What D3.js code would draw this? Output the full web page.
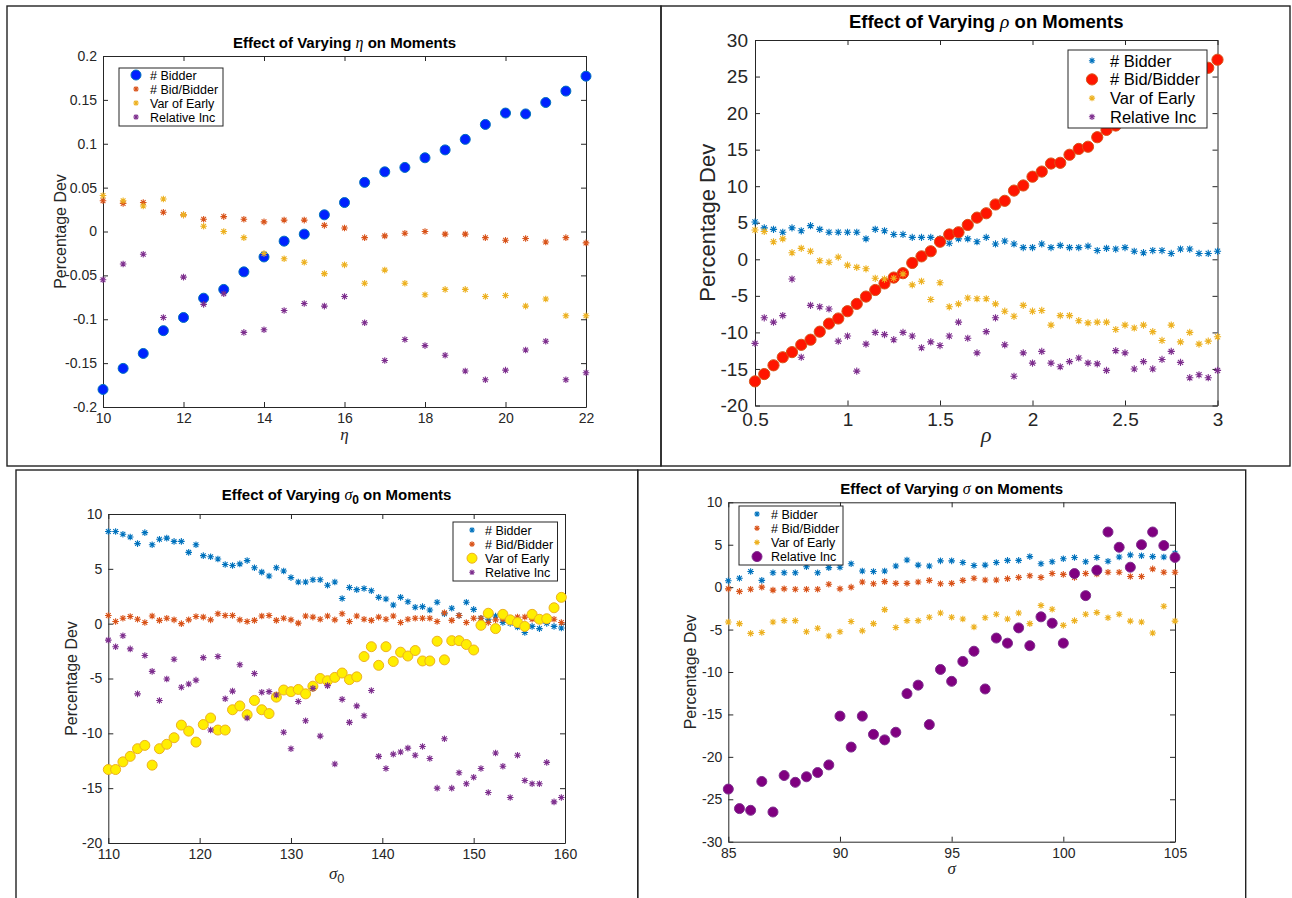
<!DOCTYPE html>
<html>
<head>
<meta charset="utf-8">
<script src="https://cdnjs.cloudflare.com/ajax/libs/d3/7.8.5/d3.min.js"></script>
<style>
body { margin: 0; background: #fff; }
svg { display: block; font-family: "Liberation Sans", Arial, sans-serif; }
</style>
</head>
<body>
<svg id="chart" width="1292" height="898"></svg>
<script>
// ---- data ----
const seriesNames = ["# Bidder", "# Bid/Bidder", "Var of Early", "Relative Inc"];
const seriesColors = ["#0072BD", "#D95319", "#EDB120", "#7E2F8E"];

// panel 1: varying eta
const etaX = [10,10.5,11,11.5,12,12.5,13,13.5,14,14.5,15,15.5,16,16.5,17,17.5,18,18.5,19,19.5,20,20.5,21,21.5,22];
const etaBidder = [-0.180,-0.156,-0.139,-0.113,-0.098,-0.076,-0.066,-0.046,-0.029,-0.011,-0.003,0.019,0.033,0.056,0.068,0.073,0.084,0.093,0.105,0.122,0.135,0.134,0.147,0.160,0.177];
const etaBidPer = [0.035,0.032,0.033,0.022,0.019,0.014,0.017,0.014,0.011,0.013,0.013,0.007,0.004,-0.007,-0.005,-0.002,0,-0.003,-0.003,-0.007,-0.010,-0.008,-0.012,-0.007,-0.013];
const etaVarEarly = [0.041,0.035,0.029,0.037,0.019,0.006,0,-0.007,-0.025,-0.031,-0.035,-0.048,-0.038,-0.059,-0.044,-0.059,-0.072,-0.066,-0.066,-0.074,-0.073,-0.085,-0.077,-0.096,-0.096];
const etaRelInc = [-0.055,-0.037,-0.026,-0.098,-0.052,-0.083,-0.071,-0.115,-0.112,-0.090,-0.082,-0.085,-0.074,-0.104,-0.147,-0.123,-0.130,-0.141,-0.159,-0.169,-0.158,-0.135,-0.125,-0.169,-0.161];
const etaXTicks = [10,12,14,16,18,20,22];
const etaYTicks = [-0.2,-0.15,-0.1,-0.05,0,0.05,0.1,0.15,0.2];

// panel 2: varying rho
const rhoX = [0.5,0.55,0.6,0.65,0.7,0.75,0.8,0.85,0.9,0.95,1,1.05,1.1,1.15,1.2,1.25,1.3,1.35,1.4,1.45,1.5,1.55,1.6,1.65,1.7,1.75,1.8,1.85,1.9,1.95,2,2.05,2.1,2.15,2.2,2.25,2.3,2.35,2.4,2.45,2.5,2.55,2.6,2.65,2.7,2.75,2.8,2.85,2.9,2.95,3];
const rhoBidder = [5.1,4.3,4.1,3.7,4.3,3.9,4.6,4.1,3.7,3.7,3.7,3.7,2.8,4.1,3.9,3.4,3.4,3.0,3.0,3.0,2.8,2.2,2.8,2.8,2.4,3.0,2.1,2.5,2.1,1.6,1.6,2.1,1.6,1.9,1.6,1.6,1.8,1.2,1.5,1.4,1.6,1.1,0.9,1.2,1.2,0.8,1.4,1.4,0.8,0.8,1.1];
const rhoBidPer = [-16.7,-15.7,-14.5,-13.4,-12.7,-11.7,-11.0,-9.9,-8.8,-8.1,-7.1,-6.1,-5.1,-4.2,-3.3,-2.5,-1.9,-0.5,0.4,1.1,2.4,3.4,3.7,4.7,5.7,6.3,7.5,8.0,9.4,10.1,11.3,12.0,13.1,13.2,14.3,15.1,15.4,16.7,17.7,18.3,19.2,19.9,20.8,21.5,22.5,23.1,24.0,24.8,25.5,26.2,27.3];
const rhoVarEarly = [4.0,3.8,2.4,2.8,0.9,1.5,1.1,-0.2,-0.4,0.3,-0.8,-1.1,-1.3,-2.6,-2.7,-2.6,-2.0,-3.5,-3.0,-5.5,-3.2,-6.5,-6.1,-5.3,-5.4,-5.4,-6.1,-7.1,-7.8,-6.3,-7.1,-7.0,-9.0,-7.7,-7.7,-8.4,-8.7,-8.6,-8.6,-9.6,-9.0,-9.4,-9.0,-9.9,-11.1,-9.0,-11.3,-10.0,-11.6,-11.2,-10.6];
const rhoRelInc = [-11.5,-8.0,-8.6,-7.7,-2.7,-13.4,-6.3,-6.5,-6.8,-11.2,-10.5,-15.3,-11.6,-10.0,-10.3,-11.0,-10.0,-10.5,-12.1,-11.3,-11.8,-10.5,-8.6,-10.8,-12.8,-9.9,-8.0,-11.7,-16.0,-12.8,-14.2,-12.6,-14.2,-14.7,-14.0,-13.5,-14.2,-14.3,-15.2,-12.5,-12.8,-15.0,-14.0,-15.0,-13.7,-12.6,-14.1,-16.2,-15.8,-16.2,-15.2];
const rhoXTicks = [0.5,1,1.5,2,2.5,3];
const rhoYTicks = [-20,-15,-10,-5,0,5,10,15,20,25,30];

// panel 3: varying sigma_0
const sig0X = [110,110.8,111.6,112.4,113.2,114,114.8,115.6,116.4,117.2,118,118.8,119.6,120.4,121.2,122,122.8,123.6,124.4,125.2,126,126.8,127.6,128.4,129.2,130,130.8,131.6,132.4,133.2,134,134.8,135.6,136.4,137.2,138,138.8,139.6,140.4,141.2,142,142.8,143.6,144.4,145.2,146,146.8,147.6,148.4,149.2,150,150.8,151.6,152.4,153.2,154,154.8,155.6,156.4,157.2,158,158.8,159.6];
const sig0Bidder = [8.4,8.4,8.15,7.9,7.3,8.3,7.2,7.7,7.8,7.5,7.5,6.5,7.2,6.2,6.1,5.9,5.4,5.3,5.45,5.75,5.1,4.7,4.35,5.1,4.8,4.2,3.8,3.8,4.0,4.0,3.5,3.8,2.3,3.3,3.1,3.2,3.0,2.4,2.25,1.7,2.4,2.0,1.5,1.55,1.25,1.95,0.9,1.4,0.75,1.95,1.3,0.5,0.4,0.7,0.1,0.03,-0.3,-0.8,-0.25,-0.45,0.03,-0.25,-0.4];
const sig0BidPer = [0.75,0.2,0.5,0.65,0.4,0.1,0.7,0.3,0.5,0.35,0,0.35,0.65,0.6,0.35,0.9,0.75,0.75,0.35,0.2,0.3,0.7,0.75,0.3,0.5,0.35,0.05,0.7,0.6,0.4,0.7,0.35,0.9,0.2,0.7,0.4,0.3,0.6,0.4,0.7,0.1,0.4,0.5,0.5,0.5,0.2,1.0,0.3,0.75,0.1,0.5,0.5,0.1,0.35,0.4,0.4,0.6,0.6,0.4,0.5,0.35,0.4,0.1];
const sig0VarEarly = [-13.3,-13.3,-12.6,-12.1,-11.4,-11.1,-12.9,-11.4,-11.0,-10.4,-9.25,-9.8,-10.8,-9.2,-8.6,-9.7,-9.7,-7.85,-7.5,-8.3,-7.0,-7.85,-8.2,-6.7,-6.05,-6.2,-6.0,-6.4,-5.7,-5.0,-5.2,-4.9,-4.5,-5.1,-4.85,-3.0,-2.1,-3.8,-2.1,-3.45,-2.6,-2.95,-2.45,-3.4,-3.4,-1.6,-3.3,-1.55,-1.55,-1.9,-2.4,-0.15,0.95,-0.45,0.85,0.35,0.1,-0.25,0.85,0.4,0.45,1.45,2.4];
const sig0RelInc = [-1.5,-2.1,-1.1,-2.3,-6.4,-2.9,-4.35,-7.0,-5.05,-3.25,-5.8,-5.5,-5.15,-3.1,-9.7,-3.0,-6.85,-6.15,-3.75,-8.6,-4.55,-6.25,-6.2,-6.5,-9.9,-11.4,-7.1,-8.85,-5.9,-10.25,-5.65,-12.8,-6.9,-9.0,-7.5,-8.4,-6.1,-12.1,-13.2,-11.9,-11.7,-11.35,-12.0,-11.2,-12.3,-15.0,-10.5,-15.0,-13.6,-14.6,-14.0,-13.2,-15.4,-11.8,-13.0,-15.85,-12.0,-14.3,-14.6,-14.6,-12.65,-16.25,-15.85];
const sig0XTicks = [110,120,130,140,150,160];
const sig0YTicks = [-20,-15,-10,-5,0,5,10];

// panel 4: varying sigma
const sigX = [85,85.5,86,86.5,87,87.5,88,88.5,89,89.5,90,90.5,91,91.5,92,92.5,93,93.5,94,94.5,95,95.5,96,96.5,97,97.5,98,98.5,99,99.5,100,100.5,101,101.5,102,102.5,103,103.5,104,104.5,105];
const sigBidder = [0.75,1.05,1.85,0.8,1.7,1.7,1.7,2.4,1.7,2.3,2.35,2.75,1.9,1.85,1.9,2.5,3.2,2.6,2.5,3.1,3.1,2.9,2.55,2.6,2.9,3.15,3.15,3.6,2.75,3.0,3.35,3.5,3.0,3.5,3.05,3.55,3.8,3.7,3.6,3.55,4.0];
const sigBidPer = [-0.2,-0.5,-0.25,0,-0.35,-0.2,-0.25,-0.25,-0.25,0.35,-0.2,0,0.6,0.4,0.65,0.45,0.45,0.6,0.8,0.4,0.45,0.8,1.05,0.85,0.85,1.0,1.15,1.35,1.15,1.6,1.5,1.15,1.6,1.55,1.75,1.75,1.25,1.25,2.15,1.75,1.75];
const sigVarEarly = [-4.1,-4.3,-5.45,-5.35,-4.1,-3.95,-3.95,-5.25,-4.85,-5.75,-5.25,-4.05,-5.15,-4.3,-2.65,-4.75,-3.95,-3.95,-3.55,-3.05,-3.55,-3.75,-4.7,-3.6,-3.2,-3.75,-3.05,-4.3,-2.15,-2.6,-4.5,-3.95,-3.2,-3.0,-3.6,-3.2,-4.0,-4.1,-5.4,-2.25,-4.0];
const sigRelInc = [-23.8,-26.1,-26.3,-22.9,-26.5,-22.2,-23.0,-22.35,-21.85,-20.95,-15.2,-18.85,-15.2,-17.35,-18.0,-17.1,-12.55,-11.55,-16.2,-9.7,-11.1,-8.75,-7.55,-12.0,-6.0,-6.6,-4.8,-6.9,-3.5,-4.25,-6.6,1.6,-1.0,2.0,6.5,4.7,2.35,5.0,6.5,4.9,3.5];
const sigXTicks = [85,90,95,100,105];
const sigYTicks = [-30,-25,-20,-15,-10,-5,0,5,10];

const svg = d3.select("#chart");

// outer frames of the four figure panels
const frames = [[7, 6, 654, 460], [661, 6, 629, 460], [16, 470, 621.7, 440], [637.7, 470, 608, 440]];
svg.selectAll("rect.frame").data(frames).join("rect")
    .attr("class", "frame")
    .attr("x", d => d[0]).attr("y", d => d[1])
    .attr("width", d => d[2]).attr("height", d => d[3])
    .attr("fill", "none").attr("stroke", "#222").attr("stroke-width", 1.4);

// MATLAB style '*' marker
function starPath(s) {
    const k = s * 0.72;
    return `M${-s},0H${s}M0,${-s}V${s}M${-k},${-k}L${k},${k}M${-k},${k}L${k},${-k}`;
}

function fmt(d) {
    return String(Math.round(d * 100) / 100);
}

// writes text parts (plain, greek italic, subscript) into a text node
function writeParts(textSel, parts, greekSize) {
    parts.forEach(pt => {
        const ts = textSel.append("tspan").text(pt.t);
        if (pt.greek) {
            ts.attr("font-family", "'Liberation Serif', 'Times New Roman', serif")
              .attr("font-style", "italic").attr("font-weight", "normal")
              .attr("font-size", greekSize);
        }
        if (pt.sub) ts.attr("dy", 4).attr("font-size", greekSize * 0.75);
        if (pt.afterSub) ts.attr("dy", -4);
    });
}

function drawPanel(p) {
    const g = svg.append("g");
    const x = d3.scaleLinear().domain(p.xDomain).range([p.left, p.right]);
    const y = d3.scaleLinear().domain(p.yDomain).range([p.bottom, p.top]);
    const tick = 5;

    // axes box with inward ticks on all sides
    g.append("g").attr("transform", `translate(0,${p.bottom})`)
        .call(d3.axisBottom(x).tickValues(p.xTicks).tickFormat(fmt)
            .tickSizeInner(-tick).tickSizeOuter(0).tickPadding(p.xPad));
    g.append("g").attr("transform", `translate(0,${p.top})`)
        .call(d3.axisTop(x).tickValues(p.xTicks).tickFormat("")
            .tickSizeInner(-tick).tickSizeOuter(0));
    g.append("g").attr("transform", `translate(${p.left},0)`)
        .call(d3.axisLeft(y).tickValues(p.yTicks).tickFormat(fmt)
            .tickSizeInner(-tick).tickSizeOuter(0).tickPadding(p.yPad));
    g.append("g").attr("transform", `translate(${p.right},0)`)
        .call(d3.axisRight(y).tickValues(p.yTicks).tickFormat("")
            .tickSizeInner(-tick).tickSizeOuter(0));
    g.selectAll(".domain").attr("stroke", "#262626").attr("stroke-width", 1);
    g.selectAll(".tick line").attr("stroke", "#262626");
    g.selectAll(".tick text").attr("fill", "#262626")
        .attr("font-size", p.tickFont).attr("font-family", "'Liberation Sans', Arial, sans-serif");

    // data marks
    p.series.forEach((s, k) => {
        const pts = p.xs.map((xv, i) => [xv, s.values[i]]);
        const layer = g.append("g");
        if (s.circle) {
            layer.selectAll("circle").data(pts).join("circle")
                .attr("cx", d => x(d[0])).attr("cy", d => y(d[1]))
                .attr("r", p.radius)
                .attr("fill", s.fill).attr("stroke", seriesColors[k]).attr("stroke-width", 1);
        } else {
            layer.selectAll("path").data(pts).join("path")
                .attr("d", starPath(p.star))
                .attr("transform", d => `translate(${x(d[0])},${y(d[1])})`)
                .attr("fill", "none").attr("stroke", seriesColors[k]).attr("stroke-width", 1.1);
        }
    });

    // title
    const title = g.append("text")
        .attr("x", (p.left + p.right) / 2).attr("y", p.titleY)
        .attr("text-anchor", "middle").attr("font-weight", "bold")
        .attr("font-size", p.titleFont).attr("fill", "#000");
    writeParts(title, p.title, p.titleFont + 1);

    // axis labels
    const xl = g.append("text")
        .attr("x", (p.left + p.right) / 2).attr("y", p.xLabelY)
        .attr("text-anchor", "middle").attr("fill", "#262626");
    writeParts(xl, p.xLabel, p.xLabelFont);
    g.append("text")
        .attr("transform", `translate(${p.yLabelX},${(p.top + p.bottom) / 2}) rotate(-90)`)
        .attr("text-anchor", "middle").attr("fill", "#262626")
        .attr("font-size", p.yLabelFont)
        .text("Percentage Dev");

    // legend
    const L = p.legend;
    const lg = g.append("g");
    lg.append("rect").attr("x", L.x).attr("y", L.y).attr("width", L.w).attr("height", L.h)
        .attr("fill", "#fff").attr("stroke", "#262626").attr("stroke-width", 1);
    p.series.forEach((s, k) => {
        const cy = L.row0 + k * L.step;
        if (s.circle) {
            lg.append("circle").attr("cx", L.mx).attr("cy", cy).attr("r", p.radius)
                .attr("fill", s.fill).attr("stroke", seriesColors[k]);
        } else {
            lg.append("path").attr("d", starPath(p.star - 0.5))
                .attr("transform", `translate(${L.mx},${cy})`)
                .attr("fill", "none").attr("stroke", seriesColors[k]).attr("stroke-width", 1.1);
        }
        lg.append("text").attr("x", L.tx).attr("y", cy + L.font * 0.36)
            .attr("font-size", L.font).attr("fill", "#000").text(seriesNames[k]);
    });
}

const panels = [
    {
        xs: etaX, xDomain: [10, 22], yDomain: [-0.2, 0.2], xTicks: etaXTicks, yTicks: etaYTicks,
        left: 103, right: 586, top: 56, bottom: 407,
        series: [
            { values: etaBidder, circle: true, fill: "#0022ff" },
            { values: etaBidPer }, { values: etaVarEarly }, { values: etaRelInc }
        ],
        radius: 5, star: 3.3, tickFont: 14, xPad: 6, yPad: 6,
        title: [{ t: "Effect of Varying " }, { t: "η", greek: true }, { t: " on Moments" }],
        titleFont: 15, titleY: 48,
        xLabel: [{ t: "η", greek: true }], xLabelFont: 17, xLabelY: 440,
        yLabelX: 66, yLabelFont: 16,
        legend: { x: 119, y: 68, w: 104, h: 58, row0: 75, step: 14, mx: 136, tx: 150, font: 12.5 }
    },
    {
        xs: rhoX, xDomain: [0.5, 3], yDomain: [-20, 30], xTicks: rhoXTicks, yTicks: rhoYTicks,
        left: 755, right: 1217.5, top: 40, bottom: 405.5,
        series: [
            { values: rhoBidder },
            { values: rhoBidPer, circle: true, fill: "#ff1500" },
            { values: rhoVarEarly }, { values: rhoRelInc }
        ],
        radius: 5.6, star: 3.6, tickFont: 19, xPad: 7, yPad: 7,
        title: [{ t: "Effect of Varying " }, { t: "ρ", greek: true }, { t: " on Moments" }],
        titleFont: 18.5, titleY: 28,
        xLabel: [{ t: "ρ", greek: true }], xLabelFont: 22, xLabelY: 442,
        yLabelX: 715, yLabelFont: 22,
        legend: { x: 1068, y: 50, w: 139, h: 78, row0: 60.7, step: 18.7, mx: 1092, tx: 1110, font: 16.5 }
    },
    {
        xs: sig0X, xDomain: [110, 160], yDomain: [-20, 10], xTicks: sig0XTicks, yTicks: sig0YTicks,
        left: 108.3, right: 565, top: 514, bottom: 843,
        series: [
            { values: sig0Bidder }, { values: sig0BidPer },
            { values: sig0VarEarly, circle: true, fill: "#ffee00" },
            { values: sig0RelInc }
        ],
        radius: 5, star: 3.3, tickFont: 14, xPad: 6, yPad: 6,
        title: [{ t: "Effect of Varying " }, { t: "σ", greek: true }, { t: "0", sub: true },
                { t: " on Moments", afterSub: true }],
        titleFont: 15, titleY: 500,
        xLabel: [{ t: "σ", greek: true }, { t: "0", sub: true }], xLabelFont: 17, xLabelY: 879,
        yLabelX: 77, yLabelFont: 16,
        legend: { x: 453, y: 522, w: 104.5, h: 59, row0: 530, step: 14.1, mx: 472, tx: 485, font: 12.5 }
    },
    {
        xs: sigX, xDomain: [85, 105], yDomain: [-30, 10], xTicks: sigXTicks, yTicks: sigYTicks,
        left: 728.3, right: 1175, top: 502.3, bottom: 841.7,
        series: [
            { values: sigBidder }, { values: sigBidPer }, { values: sigVarEarly },
            { values: sigRelInc, circle: true, fill: "#800080" }
        ],
        radius: 5, star: 3.3, tickFont: 14, xPad: 6, yPad: 6,
        title: [{ t: "Effect of Varying " }, { t: "σ", greek: true }, { t: " on Moments" }],
        titleFont: 15, titleY: 494,
        xLabel: [{ t: "σ", greek: true }], xLabelFont: 17, xLabelY: 874,
        yLabelX: 696, yLabelFont: 16,
        legend: { x: 739, y: 506, w: 104, h: 59, row0: 514, step: 14.2, mx: 757, tx: 771, font: 12.5 }
    }
];

panels.forEach(drawPanel);
</script>
</body>
</html>
